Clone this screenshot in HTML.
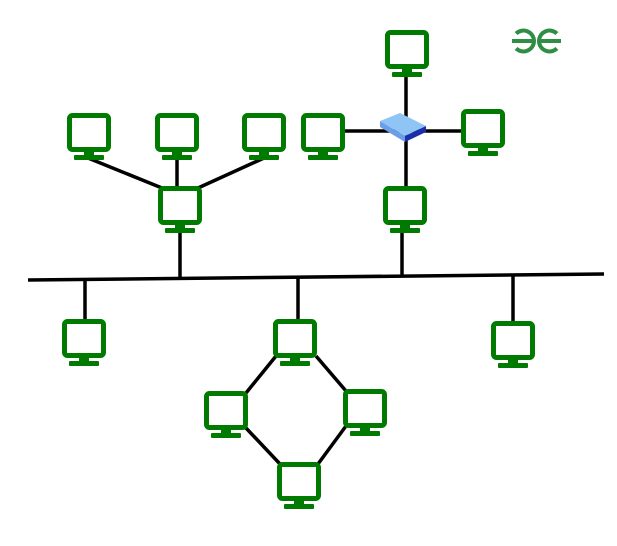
<!DOCTYPE html>
<html><head><meta charset="utf-8"><style>html,body{margin:0;padding:0;background:#fff}svg{display:block}</style></head>
<body>
<svg width="617" height="546" viewBox="0 0 617 546" xmlns="http://www.w3.org/2000/svg">
<defs>
<g id="m">
<rect x="2.5" y="2.5" width="39" height="34" rx="3" fill="#fff" stroke="#007a00" stroke-width="5"/>
<rect x="17" y="37" width="10" height="6" fill="#007a00"/>
<rect x="7" y="42" width="30" height="5" rx="1" fill="#007a00"/>
</g>
</defs>
<g stroke="#000" stroke-width="3.5" fill="none">
<line x1="28" y1="280" x2="604" y2="274"/>
<line x1="88" y1="158" x2="162" y2="188"/>
<line x1="177" y1="158" x2="177" y2="188"/>
<line x1="264" y1="158" x2="198" y2="188"/>
<line x1="180" y1="232" x2="180" y2="278"/>
<line x1="406" y1="75" x2="406" y2="188"/>
<line x1="340" y1="131" x2="464" y2="131"/>
<line x1="402" y1="232" x2="402" y2="276"/>
<line x1="85" y1="279" x2="85" y2="320"/>
<line x1="298" y1="277" x2="298" y2="320"/>
<line x1="513" y1="275" x2="513" y2="322"/>
<line x1="276" y1="356" x2="246" y2="393"/>
<line x1="316" y1="356" x2="346" y2="391"/>
<line x1="246" y1="428" x2="280" y2="464"/>
<line x1="346" y1="426" x2="318" y2="464"/>
</g>
<use href="#m" x="67" y="113"/>
<use href="#m" x="155" y="113"/>
<use href="#m" x="242" y="113"/>
<use href="#m" x="158" y="186"/>
<use href="#m" x="385" y="30"/>
<use href="#m" x="301" y="113"/>
<use href="#m" x="461" y="109"/>
<use href="#m" x="383" y="186"/>
<use href="#m" x="62" y="319"/>
<use href="#m" x="273" y="319"/>
<use href="#m" x="491" y="321"/>
<use href="#m" x="204" y="391"/>
<use href="#m" x="343" y="389"/>
<use href="#m" x="277" y="462"/>
<!-- switch -->
<polygon points="380,121 400,113 426,126 405,136" fill="#8ec5f5"/>
<polygon points="380,121 405,136 405,142 380,127" fill="#6a9ee8"/>
<polygon points="405,136 426,126 426,132 405,142" fill="#1c2ea8"/>
<!-- logo -->
<g stroke="#2f8d46" stroke-width="4" fill="none">
<path d="M512,41 H534 M516.1,33.6 A10.5,10.5 0 0 1 534,41 A10.5,10.5 0 0 1 516.1,48.4"/>
<path d="M561,41 H539 M556.9,33.6 A10.5,10.5 0 0 0 539,41 A10.5,10.5 0 0 0 556.9,48.4"/>
</g>
</svg>
</body></html>
